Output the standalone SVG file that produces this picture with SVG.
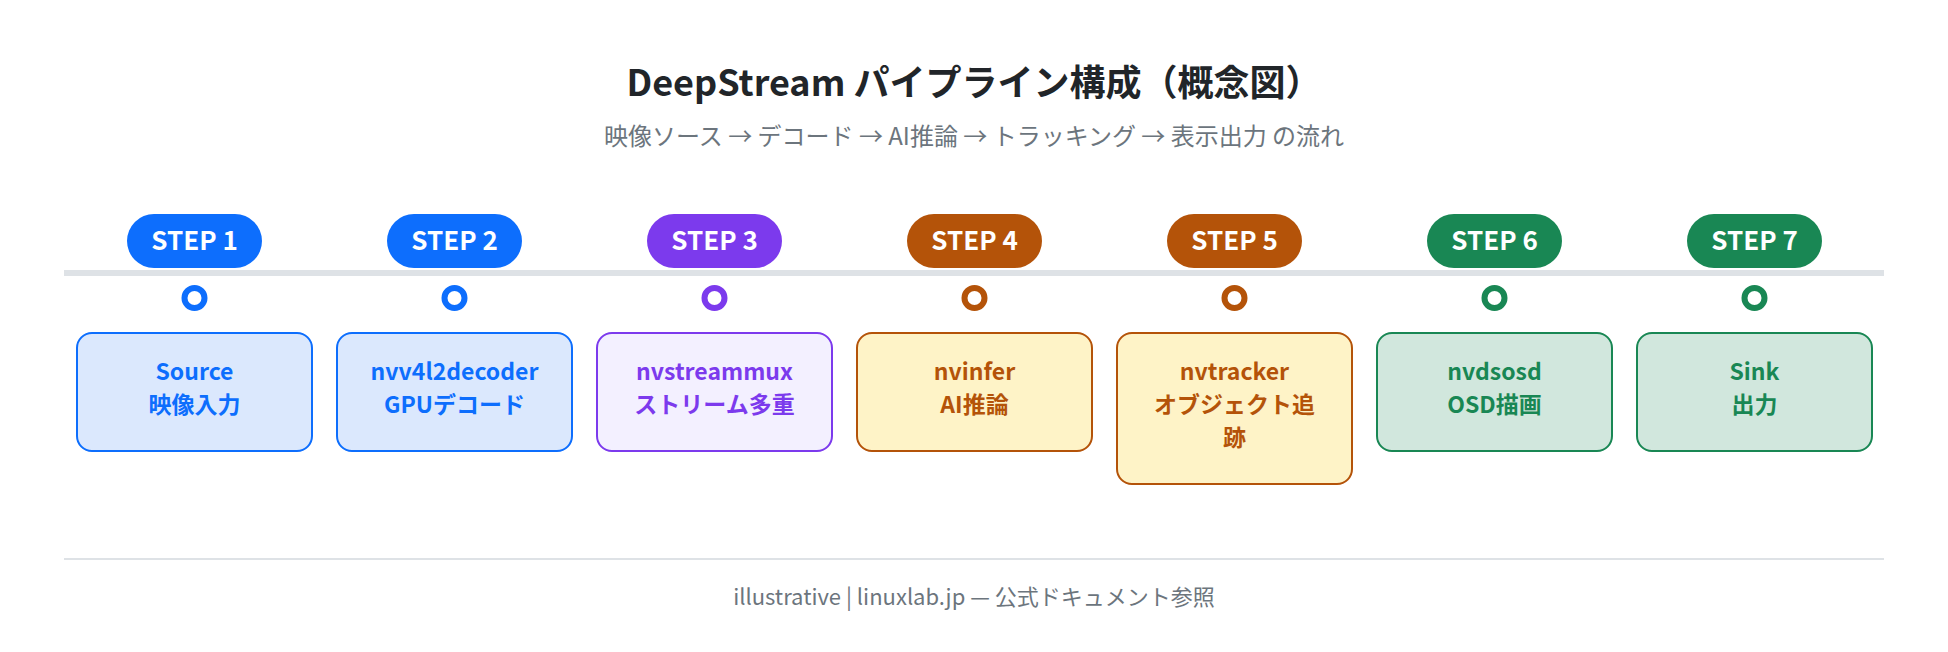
<svg xmlns="http://www.w3.org/2000/svg" width="1948" height="652" viewBox="0 0 1948 652">
<style>
text{font-family:"Noto Sans CJK JP","Noto Sans",sans-serif;text-anchor:middle}
.title{font-size:36px;font-weight:700;fill:#212529}
.sub{font-size:24px;fill:#6c757d}
.foot{font-size:22px;fill:#6c757d}
.pilltxt{font-size:26px;font-weight:700;fill:#ffffff}
.lbl{font-size:23px;font-weight:700}
.dot{fill:#ffffff;stroke-width:6}
.box{stroke-width:2}
.blue .pill{fill:#0d6efd}.blue .dot{stroke:#0d6efd}.blue .box{fill:#dbe8fd;stroke:#0d6efd}.blue .lbl{fill:#0d6efd}
.purple .pill{fill:#7c3aed}.purple .dot{stroke:#7c3aed}.purple .box{fill:#f3f0ff;stroke:#7c3aed}.purple .lbl{fill:#7c3aed}
.orange .pill{fill:#b45309}.orange .dot{stroke:#b45309}.orange .box{fill:#fef3c7;stroke:#b45309}.orange .lbl{fill:#b45309}
.green .pill{fill:#198754}.green .dot{stroke:#198754}.green .box{fill:#d1e7dd;stroke:#198754}.green .lbl{fill:#198754}
</style>
<rect width="1948" height="652" fill="#ffffff"/>
<text class="title" x="974" y="96">DeepStream パイプライン構成（概念図）</text>
<text class="sub" x="974" y="145">映像ソース → デコード → AI推論 → トラッキング → 表示出力 の流れ</text>
<g id="connectors">
<line x1="64" y1="273" x2="1884" y2="273" stroke="#dee2e6" stroke-width="6"/>
</g>
<g id="step1" class="blue">
<rect class="pill" x="127" y="214" width="135" height="54" rx="27"/>
<text class="pilltxt" x="194.5" y="250">STEP 1</text>
<circle class="dot" cx="194.5" cy="298" r="10"/>
<rect class="box" x="77" y="333" width="235" height="118" rx="15"/>
<text class="lbl" x="194.5" y="380">Source</text>
<text class="lbl" x="194.5" y="413">映像入力</text>
</g>
<g id="step2" class="blue">
<rect class="pill" x="387" y="214" width="135" height="54" rx="27"/>
<text class="pilltxt" x="454.5" y="250">STEP 2</text>
<circle class="dot" cx="454.5" cy="298" r="10"/>
<rect class="box" x="337" y="333" width="235" height="118" rx="15"/>
<text class="lbl" x="454.5" y="380">nvv4l2decoder</text>
<text class="lbl" x="454.5" y="413">GPUデコード</text>
</g>
<g id="step3" class="purple">
<rect class="pill" x="647" y="214" width="135" height="54" rx="27"/>
<text class="pilltxt" x="714.5" y="250">STEP 3</text>
<circle class="dot" cx="714.5" cy="298" r="10"/>
<rect class="box" x="597" y="333" width="235" height="118" rx="15"/>
<text class="lbl" x="714.5" y="380">nvstreammux</text>
<text class="lbl" x="714.5" y="413">ストリーム多重</text>
</g>
<g id="step4" class="orange">
<rect class="pill" x="907" y="214" width="135" height="54" rx="27"/>
<text class="pilltxt" x="974.5" y="250">STEP 4</text>
<circle class="dot" cx="974.5" cy="298" r="10"/>
<rect class="box" x="857" y="333" width="235" height="118" rx="15"/>
<text class="lbl" x="974.5" y="380">nvinfer</text>
<text class="lbl" x="974.5" y="413">AI推論</text>
</g>
<g id="step5" class="orange">
<rect class="pill" x="1167" y="214" width="135" height="54" rx="27"/>
<text class="pilltxt" x="1234.5" y="250">STEP 5</text>
<circle class="dot" cx="1234.5" cy="298" r="10"/>
<rect class="box" x="1117" y="333" width="235" height="151" rx="15"/>
<text class="lbl" x="1234.5" y="380">nvtracker</text>
<text class="lbl" x="1234.5" y="413">オブジェクト追</text>
<text class="lbl" x="1234.5" y="446">跡</text>
</g>
<g id="step6" class="green">
<rect class="pill" x="1427" y="214" width="135" height="54" rx="27"/>
<text class="pilltxt" x="1494.5" y="250">STEP 6</text>
<circle class="dot" cx="1494.5" cy="298" r="10"/>
<rect class="box" x="1377" y="333" width="235" height="118" rx="15"/>
<text class="lbl" x="1494.5" y="380">nvdsosd</text>
<text class="lbl" x="1494.5" y="413">OSD描画</text>
</g>
<g id="step7" class="green">
<rect class="pill" x="1687" y="214" width="135" height="54" rx="27"/>
<text class="pilltxt" x="1754.5" y="250">STEP 7</text>
<circle class="dot" cx="1754.5" cy="298" r="10"/>
<rect class="box" x="1637" y="333" width="235" height="118" rx="15"/>
<text class="lbl" x="1754.5" y="380">Sink</text>
<text class="lbl" x="1754.5" y="413">出力</text>
</g>
<line x1="64" y1="559" x2="1884" y2="559" stroke="#dee2e6" stroke-width="2"/>
<text class="foot" x="974" y="605">illustrative | linuxlab.jp — 公式ドキュメント参照</text>
</svg>
